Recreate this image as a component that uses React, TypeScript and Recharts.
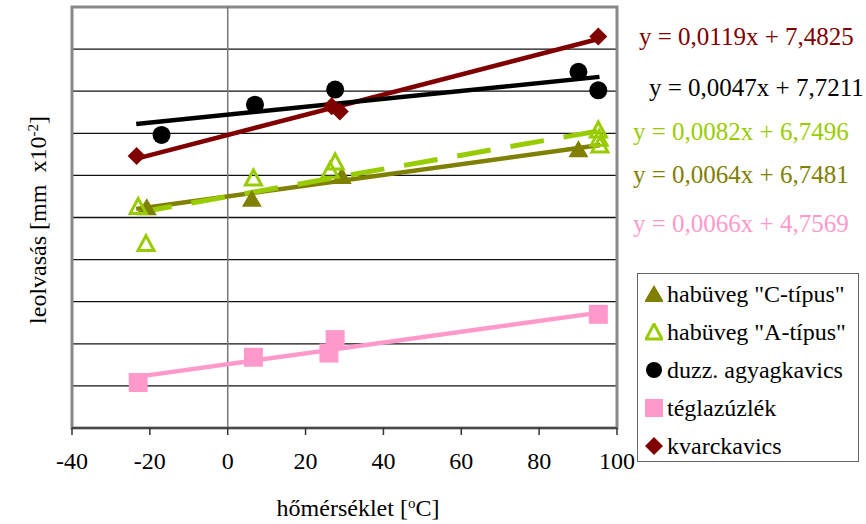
import React from 'react';
import {
  ComposedChart,
  XAxis,
  YAxis,
  CartesianGrid,
  Scatter,
  Line,
  ReferenceLine,
  ReferenceArea,
} from 'recharts';

// tick values
const xTicks = [-40, -20, 0, 20, 40, 60, 80, 100];
const yTicks = [4, 4.5, 5, 5.5, 6, 6.5, 7, 7.5, 8, 8.5, 9];

const habuvegC = [
  { x: -20.8, y: 6.61 },
  { x: 6.2, y: 6.71 },
  { x: 29.3, y: 6.98 },
  { x: 90.1, y: 7.3 },
];
const habuvegA = [
  { x: -23, y: 6.63 },
  { x: -21, y: 6.19 },
  { x: 6.6, y: 6.97 },
  { x: 26.3, y: 7.06 },
  { x: 27.6, y: 7.16 },
  { x: 95.2, y: 7.54 },
  { x: 95.4, y: 7.44 },
  { x: 95.6, y: 7.36 },
];
const duzz = [
  { x: -17, y: 7.48 },
  { x: 7, y: 7.84 },
  { x: 27.6, y: 8.02 },
  { x: 90.1, y: 8.23 },
  { x: 95.2, y: 8.01 },
];
const tegla = [
  { x: -23, y: 4.54 },
  { x: 6.6, y: 4.84 },
  { x: 26, y: 4.89 },
  { x: 27.6, y: 5.05 },
  { x: 95.2, y: 5.35 },
];
const kvarc = [
  { x: -23.4, y: 7.23 },
  { x: 26.7, y: 7.82 },
  { x: 28.8, y: 7.76 },
  { x: 95.2, y: 8.65 },
];

// trendline end points
const trendC = [{ x: -23.5, y: 6.6 }, { x: 95.7, y: 7.36 }];
const trendA = [{ x: -23, y: 6.56 }, { x: 95.5, y: 7.53 }];
const trendDuzz = [{ x: -23.5, y: 7.61 }, { x: 95.5, y: 8.17 }];
const trendTegla = [{ x: -23, y: 4.61 }, { x: 95.5, y: 5.37 }];
const trendKvarc = [{ x: -23.4, y: 7.2 }, { x: 95.2, y: 8.62 }];

const equations = [
  { text: 'y = 0,0119x + 7,4825', color: '#800000', left: 639, top: 37 },
  { text: 'y = 0,0047x + 7,7211', color: '#000000', left: 649, top: 88 },
  { text: 'y = 0,0082x + 6,7496', color: '#99CC00', left: 633, top: 132 },
  { text: 'y = 0,0064x + 6,7481', color: '#808000', left: 633, top: 175 },
  { text: 'y = 0,0066x + 4,7569', color: '#FF99CC', left: 633, top: 224 },
];

const legendItems = [
  { name: 'habüveg "C-típus"', kind: 'triFill', color: '#808000' },
  { name: 'habüveg "A-típus"', kind: 'triOpen', color: '#99CC00' },
  { name: 'duzz. agyagkavics', kind: 'circle', color: '#000000' },
  { name: 'téglazúzlék', kind: 'square', color: '#FF99CC' },
  { name: 'kvarckavics', kind: 'diamond', color: '#800000' },
];

const FONT = '"Liberation Serif", "Times New Roman", serif';

const TriFill = (p: any) => (
  <polygon
    points={`${p.cx},${p.cy - 10} ${p.cx - 10},${p.cy + 7} ${p.cx + 10},${p.cy + 7}`}
    fill="#808000"
  />
);
const TriOpen = (p: any) => (
  <polygon
    points={`${p.cx},${p.cy - 8} ${p.cx - 8},${p.cy + 7} ${p.cx + 8},${p.cy + 7}`}
    fill="none"
    stroke="#99CC00"
    strokeWidth={3}
  />
);
const Dot = (p: any) => <circle cx={p.cx} cy={p.cy} r={9} fill="#000" />;
const Sq = (p: any) => (
  <rect x={p.cx - 9.5} y={p.cy - 9.5} width={19} height={19} fill="#FF99CC" />
);
const Diamond = (p: any) => (
  <polygon
    points={`${p.cx},${p.cy - 9} ${p.cx + 9},${p.cy} ${p.cx},${p.cy + 9} ${p.cx - 9},${p.cy}`}
    fill="#800000"
  />
);

const LegendIcon = ({ kind, color }: { kind: string; color: string }) => {
  const c = 9;
  return (
    <svg width={18} height={18} style={{ display: 'block' }}>
      {kind === 'triFill' && <TriFill cx={c} cy={c + 1} />}
      {kind === 'triOpen' && <TriOpen cx={c} cy={c} />}
      {kind === 'circle' && <circle cx={c} cy={c} r={8} fill={color} />}
      {kind === 'square' && <rect x={0} y={0} width={18} height={18} fill={color} />}
      {kind === 'diamond' && <Diamond cx={c} cy={c} />}
    </svg>
  );
};

export default function App() {
  return (
    <div style={{ position: 'absolute', left: 0, top: 0, width: 866, height: 524, background: '#fff', fontFamily: FONT }}>
      <ComposedChart
        width={866}
        height={524}
        margin={{ top: 7, right: 249, bottom: 36, left: 72 }}
      >
        <CartesianGrid horizontal vertical={false} stroke="#111" strokeWidth={1.3} />
        <XAxis
          type="number"
          dataKey="x"
          domain={[-40, 100]}
          ticks={xTicks}
          allowDataOverflow
          height={60}
          tickSize={7}
          tickMargin={17}
          stroke="#333"
          strokeWidth={1.5}
          tick={{ fontFamily: FONT, fontSize: 24, fill: '#000' }}
        />
        <YAxis type="number" dataKey="y" domain={[4, 9]} ticks={yTicks} hide allowDataOverflow />
        <ReferenceArea x1={-40} x2={100} y1={4} y2={9} fill="none" stroke="#888" strokeWidth={3} />
        <ReferenceLine x={0} stroke="#777" strokeWidth={1.5} />

        <Scatter data={habuvegC} shape={TriFill} isAnimationActive={false} />
        <Scatter data={habuvegA} shape={TriOpen} isAnimationActive={false} />
        <Scatter data={duzz} shape={Dot} isAnimationActive={false} />
        <Scatter data={tegla} shape={Sq} isAnimationActive={false} />
        <Scatter data={kvarc} shape={Diamond} isAnimationActive={false} />

        <Line data={trendTegla} dataKey="y" type="linear" stroke="#FF99CC" strokeWidth={4.5} dot={false} activeDot={false} isAnimationActive={false} />
        <Line data={trendKvarc} dataKey="y" type="linear" stroke="#800000" strokeWidth={4.5} dot={false} activeDot={false} isAnimationActive={false} />
        <Line data={trendDuzz} dataKey="y" type="linear" stroke="#000000" strokeWidth={4.5} dot={false} activeDot={false} isAnimationActive={false} />
        <Line data={trendC} dataKey="y" type="linear" stroke="#808000" strokeWidth={4.5} dot={false} activeDot={false} isAnimationActive={false} />
        <Line data={trendA} dataKey="y" type="linear" stroke="#99CC00" strokeWidth={5} strokeDasharray="34 20" dot={false} activeDot={false} isAnimationActive={false} />
      </ComposedChart>

      {equations.map((e) => (
        <div
          key={e.text}
          style={{
            position: 'absolute',
            left: e.left,
            top: e.top - 13,
            fontSize: 25,
            lineHeight: '26px',
            color: e.color,
            whiteSpace: 'nowrap',
          }}
        >
          {e.text}
        </div>
      ))}

      <div
        style={{
          position: 'absolute',
          left: 637,
          top: 273,
          width: 220,
          height: 187,
          border: '1.5px solid #666',
          background: '#fff',
        }}
      >
        {legendItems.map((it, i) => (
          <div
            key={it.name}
            style={{
              position: 'absolute',
              left: 7,
              top: 20 + i * 38 - 13,
              height: 26,
              display: 'flex',
              alignItems: 'center',
              whiteSpace: 'nowrap',
              fontSize: 24,
              lineHeight: '26px',
            }}
          >
            <LegendIcon kind={it.kind} color={it.color} />
            <span style={{ marginLeft: 4 }}>{it.name}</span>
          </div>
        ))}
      </div>

      <div
        style={{
          position: 'absolute',
          left: 358,
          top: 508,
          transform: 'translate(-50%, -50%)',
          fontSize: 24,
          whiteSpace: 'nowrap',
        }}
      >
        hőmérséklet [<sup style={{ fontSize: 15, verticalAlign: 'top', lineHeight: '16px' }}>o</sup>C]
      </div>

      <div
        style={{
          position: 'absolute',
          left: 38,
          top: 220,
          transform: 'translate(-50%, -50%) rotate(-90deg)',
          fontSize: 24,
          whiteSpace: 'pre',
        }}
      >
        {'leolvasás [mm  x10'}
        <sup style={{ fontSize: 15, verticalAlign: 'top', lineHeight: '16px' }}>-2</sup>]
      </div>
    </div>
  );
}
